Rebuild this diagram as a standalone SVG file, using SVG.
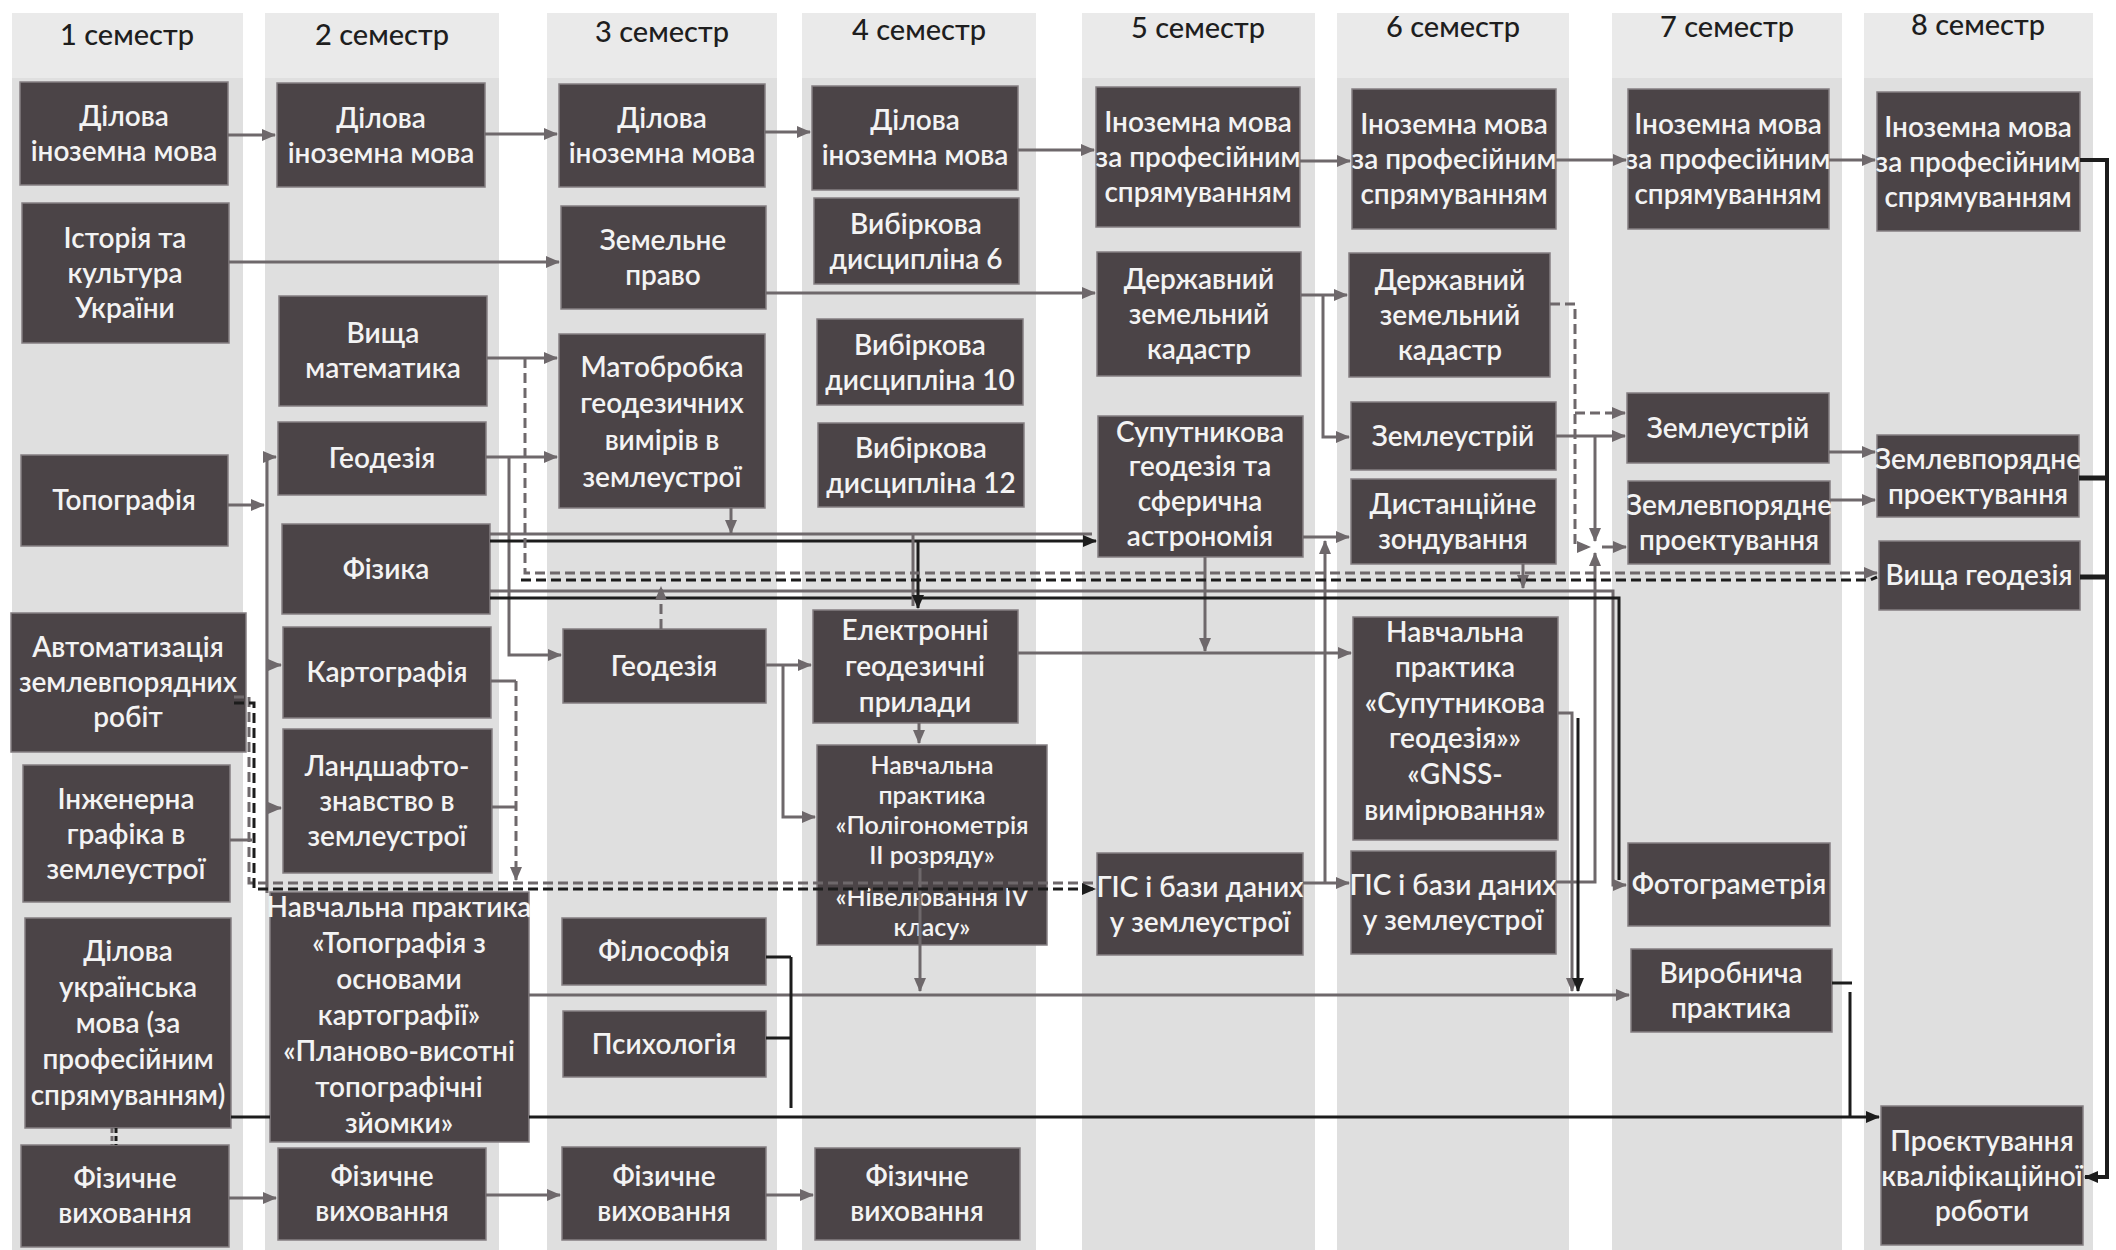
<svg xmlns="http://www.w3.org/2000/svg" width="2116" height="1250" viewBox="0 0 2116 1250">
<defs>
<style>
.col{fill:#dfdfdf}
.hdr{fill:#eaeaea}
.ht{font-family:Lato,'Open Sans','Noto Sans',sans-serif;font-size:29px;font-weight:500;fill:#1e1e1e;text-anchor:middle}
.box{fill:#4b4447;stroke:#857f82;stroke-width:1.5}
.t{font-family:Lato,'Open Sans','Noto Sans',sans-serif;font-size:28px;font-weight:600;fill:#f3f3f3;text-anchor:middle}
.ts{font-size:25px}
.g{fill:none;stroke:#6e686b;stroke-width:3}
.b{fill:none;stroke:#1c1c1c;stroke-width:3}
.gd{fill:none;stroke:#6e686b;stroke-width:3;stroke-dasharray:10 5}
.bd{fill:none;stroke:#1c1c1c;stroke-width:3;stroke-dasharray:10 5}
</style>
<marker id="ag" markerUnits="userSpaceOnUse" markerWidth="14" markerHeight="12" refX="13" refY="6" orient="auto"><path d="M0,0 L14,6 L0,12 z" fill="#6e686b"/></marker>
<marker id="ab" markerUnits="userSpaceOnUse" markerWidth="14" markerHeight="12" refX="13" refY="6" orient="auto"><path d="M0,0 L14,6 L0,12 z" fill="#1c1c1c"/></marker>
</defs>
<rect width="2116" height="1250" fill="#ffffff"/>
<g id="columns">
<rect class="col" x="12" y="13" width="231" height="1237"/><rect class="hdr" x="12" y="13" width="231" height="65"/>
<rect class="col" x="265" y="13" width="234" height="1237"/><rect class="hdr" x="265" y="13" width="234" height="65"/>
<rect class="col" x="547" y="13" width="230" height="1237"/><rect class="hdr" x="547" y="13" width="230" height="65"/>
<rect class="col" x="802" y="13" width="234" height="1237"/><rect class="hdr" x="802" y="13" width="234" height="65"/>
<rect class="col" x="1082" y="13" width="233" height="1237"/><rect class="hdr" x="1082" y="13" width="233" height="65"/>
<rect class="col" x="1337" y="13" width="232" height="1237"/><rect class="hdr" x="1337" y="13" width="232" height="65"/>
<rect class="col" x="1612" y="13" width="230" height="1237"/><rect class="hdr" x="1612" y="13" width="230" height="65"/>
<rect class="col" x="1864" y="13" width="229" height="1237"/><rect class="hdr" x="1864" y="13" width="229" height="65"/>
<text class="ht" x="127" y="45">1 семестр</text>
<text class="ht" x="382" y="45">2 семестр</text>
<text class="ht" x="662" y="42">3 семестр</text>
<text class="ht" x="919" y="40">4 семестр</text>
<text class="ht" x="1198" y="38">5 семестр</text>
<text class="ht" x="1453" y="37">6 семестр</text>
<text class="ht" x="1727" y="37">7 семестр</text>
<text class="ht" x="1978" y="35">8 семестр</text>
</g>
<g id="nodes">
<g id="n1a"><rect class="box" x="20" y="82" width="208" height="103"/><text class="t"><tspan x="124" y="126">Ділова</tspan><tspan x="124" y="161">іноземна мова</tspan></text></g>
<g id="n1b"><rect class="box" x="22" y="203" width="207" height="140"/><text class="t"><tspan x="125" y="248">Історія та</tspan><tspan x="125" y="283">культура</tspan><tspan x="125" y="318">України</tspan></text></g>
<g id="n1c"><rect class="box" x="21" y="455" width="207" height="91"/><text class="t"><tspan x="124" y="510">Топографія</tspan></text></g>
<g id="n1d"><rect class="box" x="11" y="613" width="235" height="139"/><text class="t"><tspan x="128" y="657">Автоматизація</tspan><tspan x="128" y="692">землевпорядних</tspan><tspan x="128" y="727">робіт</tspan></text></g>
<g id="n1e"><rect class="box" x="23" y="765" width="207" height="137"/><text class="t"><tspan x="126" y="809">Інженерна</tspan><tspan x="126" y="844">графіка в</tspan><tspan x="126" y="879">землеустрої</tspan></text></g>
<g id="n1f"><rect class="box" x="25" y="918" width="206" height="210"/><text class="t"><tspan x="128" y="961">Ділова</tspan><tspan x="128" y="997">українська</tspan><tspan x="128" y="1033">мова (за</tspan><tspan x="128" y="1069">професійним</tspan><tspan x="128" y="1105">спрямуванням)</tspan></text></g>
<g id="n1g"><rect class="box" x="21" y="1145" width="208" height="102"/><text class="t"><tspan x="125" y="1188">Фізичне</tspan><tspan x="125" y="1223">виховання</tspan></text></g>

<g id="n2a"><rect class="box" x="277" y="83" width="208" height="104"/><text class="t"><tspan x="381" y="128">Ділова</tspan><tspan x="381" y="163">іноземна мова</tspan></text></g>
<g id="n2b"><rect class="box" x="279" y="296" width="208" height="110"/><text class="t"><tspan x="383" y="343">Вища</tspan><tspan x="383" y="378">математика</tspan></text></g>
<g id="n2c"><rect class="box" x="278" y="422" width="208" height="73"/><text class="t"><tspan x="382" y="468">Геодезія</tspan></text></g>
<g id="n2d"><rect class="box" x="282" y="524" width="208" height="90"/><text class="t"><tspan x="386" y="579">Фізика</tspan></text></g>
<g id="n2e"><rect class="box" x="283" y="627" width="208" height="91"/><text class="t"><tspan x="387" y="682">Картографія</tspan></text></g>
<g id="n2f"><rect class="box" x="283" y="729" width="209" height="144"/><text class="t"><tspan x="387" y="776">Ландшафто-</tspan><tspan x="387" y="811">знавство в</tspan><tspan x="387" y="846">землеустрої</tspan></text></g>
<g id="n2g"><rect class="box" x="270" y="892" width="259" height="250"/><text class="t"><tspan x="399" y="917">Навчальна практика</tspan><tspan x="399" y="953">«Топографія з</tspan><tspan x="399" y="989">основами</tspan><tspan x="399" y="1025">картографії»</tspan><tspan x="399" y="1061">«Планово-висотні</tspan><tspan x="399" y="1097">топографічні</tspan><tspan x="399" y="1133">зйомки»</tspan></text></g>
<g id="n2h"><rect class="box" x="278" y="1148" width="208" height="92"/><text class="t"><tspan x="382" y="1186">Фізичне</tspan><tspan x="382" y="1221">виховання</tspan></text></g>

<g id="n3a"><rect class="box" x="559" y="84" width="206" height="103"/><text class="t"><tspan x="662" y="128">Ділова</tspan><tspan x="662" y="163">іноземна мова</tspan></text></g>
<g id="n3b"><rect class="box" x="561" y="206" width="205" height="103"/><text class="t"><tspan x="663" y="250">Земельне</tspan><tspan x="663" y="285">право</tspan></text></g>
<g id="n3c"><rect class="box" x="559" y="334" width="206" height="174"/><text class="t"><tspan x="662" y="377">Матобробка</tspan><tspan x="662" y="413">геодезичних</tspan><tspan x="662" y="450">вимірів в</tspan><tspan x="662" y="487">землеустрої</tspan></text></g>
<g id="n3d"><rect class="box" x="563" y="629" width="203" height="74"/><text class="t"><tspan x="664" y="676">Геодезія</tspan></text></g>
<g id="n3e"><rect class="box" x="562" y="918" width="204" height="67"/><text class="t"><tspan x="664" y="961">Філософія</tspan></text></g>
<g id="n3f"><rect class="box" x="563" y="1011" width="203" height="66"/><text class="t"><tspan x="664" y="1054">Психологія</tspan></text></g>
<g id="n3g"><rect class="box" x="562" y="1147" width="204" height="93"/><text class="t"><tspan x="664" y="1186">Фізичне</tspan><tspan x="664" y="1221">виховання</tspan></text></g>

<g id="n4a"><rect class="box" x="812" y="86" width="206" height="104"/><text class="t"><tspan x="915" y="130">Ділова</tspan><tspan x="915" y="165">іноземна мова</tspan></text></g>
<g id="n4b"><rect class="box" x="814" y="198" width="205" height="86"/><text class="t"><tspan x="916" y="234">Вибіркова</tspan><tspan x="916" y="269">дисципліна 6</tspan></text></g>
<g id="n4c"><rect class="box" x="817" y="319" width="206" height="86"/><text class="t"><tspan x="920" y="355">Вибіркова</tspan><tspan x="920" y="390">дисципліна 10</tspan></text></g>
<g id="n4d"><rect class="box" x="818" y="423" width="206" height="84"/><text class="t"><tspan x="921" y="458">Вибіркова</tspan><tspan x="921" y="493">дисципліна 12</tspan></text></g>
<g id="n4e"><rect class="box" x="813" y="610" width="205" height="113"/><text class="t"><tspan x="915" y="640">Електронні</tspan><tspan x="915" y="676">геодезичні</tspan><tspan x="915" y="712">прилади</tspan></text></g>
<g id="n4f"><rect class="box" x="817" y="745" width="230" height="200"/><text class="t ts"><tspan x="932" y="774">Навчальна</tspan><tspan x="932" y="804">практика</tspan><tspan x="932" y="834">«Полігонометрія</tspan><tspan x="932" y="864">II розряду»</tspan><tspan x="932" y="906">«Нівелювання IV</tspan><tspan x="932" y="936">класу»</tspan></text></g>
<g id="n4g"><rect class="box" x="815" y="1148" width="205" height="92"/><text class="t"><tspan x="917" y="1186">Фізичне</tspan><tspan x="917" y="1221">виховання</tspan></text></g>

<g id="n5a"><rect class="box" x="1096" y="87" width="204" height="140"/><text class="t"><tspan x="1198" y="132">Іноземна мова</tspan><tspan x="1198" y="167">за професійним</tspan><tspan x="1198" y="202">спрямуванням</tspan></text></g>
<g id="n5b"><rect class="box" x="1097" y="252" width="204" height="124"/><text class="t"><tspan x="1199" y="289">Державний</tspan><tspan x="1199" y="324">земельний</tspan><tspan x="1199" y="359">кадастр</tspan></text></g>
<g id="n5c"><rect class="box" x="1098" y="416" width="205" height="141"/><text class="t"><tspan x="1200" y="442">Супутникова</tspan><tspan x="1200" y="476">геодезія та</tspan><tspan x="1200" y="511">сферична</tspan><tspan x="1200" y="546">астрономія</tspan></text></g>
<g id="n5d"><rect class="box" x="1097" y="853" width="206" height="102"/><text class="t"><tspan x="1200" y="897">ГІС і бази даних</tspan><tspan x="1200" y="932">у землеустрої</tspan></text></g>

<g id="n6a"><rect class="box" x="1352" y="89" width="204" height="140"/><text class="t"><tspan x="1454" y="134">Іноземна мова</tspan><tspan x="1454" y="169">за професійним</tspan><tspan x="1454" y="204">спрямуванням</tspan></text></g>
<g id="n6b"><rect class="box" x="1349" y="253" width="201" height="124"/><text class="t"><tspan x="1450" y="290">Державний</tspan><tspan x="1450" y="325">земельний</tspan><tspan x="1450" y="360">кадастр</tspan></text></g>
<g id="n6c"><rect class="box" x="1351" y="402" width="205" height="68"/><text class="t"><tspan x="1453" y="446">Землеустрій</tspan></text></g>
<g id="n6d"><rect class="box" x="1351" y="479" width="205" height="85"/><text class="t"><tspan x="1453" y="514">Дистанційне</tspan><tspan x="1453" y="549">зондування</tspan></text></g>
<g id="n6e"><rect class="box" x="1353" y="617" width="205" height="223"/><text class="t"><tspan x="1455" y="642">Навчальна</tspan><tspan x="1455" y="677">практика</tspan><tspan x="1455" y="713">«Супутникова</tspan><tspan x="1455" y="748">геодезія»»</tspan><tspan x="1455" y="784">«GNSS-</tspan><tspan x="1455" y="820">вимірювання»</tspan></text></g>
<g id="n6f"><rect class="box" x="1351" y="851" width="205" height="103"/><text class="t"><tspan x="1453" y="895">ГІС і бази даних</tspan><tspan x="1453" y="930">у землеустрої</tspan></text></g>

<g id="n7a"><rect class="box" x="1628" y="89" width="201" height="140"/><text class="t"><tspan x="1728" y="134">Іноземна мова</tspan><tspan x="1728" y="169">за професійним</tspan><tspan x="1728" y="204">спрямуванням</tspan></text></g>
<g id="n7b"><rect class="box" x="1627" y="393" width="202" height="70"/><text class="t"><tspan x="1728" y="438">Землеустрій</tspan></text></g>
<g id="n7c"><rect class="box" x="1628" y="481" width="202" height="83"/><text class="t"><tspan x="1729" y="515">Землевпорядне</tspan><tspan x="1729" y="550">проектування</tspan></text></g>
<g id="n7d"><rect class="box" x="1628" y="843" width="202" height="83"/><text class="t"><tspan x="1729" y="894">Фотограметрія</tspan></text></g>
<g id="n7e"><rect class="box" x="1631" y="949" width="201" height="83"/><text class="t"><tspan x="1731" y="983">Виробнича</tspan><tspan x="1731" y="1018">практика</tspan></text></g>

<g id="n8a"><rect class="box" x="1877" y="92" width="203" height="139"/><text class="t"><tspan x="1978" y="137">Іноземна мова</tspan><tspan x="1978" y="172">за професійним</tspan><tspan x="1978" y="207">спрямуванням</tspan></text></g>
<g id="n8b"><rect class="box" x="1877" y="435" width="202" height="82"/><text class="t"><tspan x="1978" y="469">Землевпорядне</tspan><tspan x="1978" y="504">проектування</tspan></text></g>
<g id="n8c"><rect class="box" x="1879" y="541" width="201" height="69"/><text class="t"><tspan x="1979" y="585">Вища геодезія</tspan></text></g>
<g id="n8d"><rect class="box" x="1881" y="1106" width="202" height="139"/><text class="t"><tspan x="1982" y="1151">Проєктування</tspan><tspan x="1982" y="1186">кваліфікаційної</tspan><tspan x="1982" y="1221">роботи</tspan></text></g>
</g>
<g id="connectors">
<path class="g" d="M228,135 H275" marker-end="url(#ag)"/>
<path class="g" d="M485,134 H557" marker-end="url(#ag)"/>
<path class="g" d="M765,132 H810" marker-end="url(#ag)"/>
<path class="g" d="M1018,150 H1094" marker-end="url(#ag)"/>
<path class="g" d="M1300,161 H1350" marker-end="url(#ag)"/>
<path class="g" d="M1556,160 H1626" marker-end="url(#ag)"/>
<path class="g" d="M1829,160 H1875" marker-end="url(#ag)"/>
<path class="g" d="M229,262 H559" marker-end="url(#ag)"/>
<path class="g" d="M766,293 H1095" marker-end="url(#ag)"/>
<path class="g" d="M1301,295 H1347" marker-end="url(#ag)"/>
<path class="g" d="M1323,295 V437 H1349" marker-end="url(#ag)"/>
<path class="g" d="M1556,436 H1625" marker-end="url(#ag)"/>
<path class="g" d="M1595,436 V541" marker-end="url(#ag)"/>
<path class="g" d="M1602,547 H1626" marker-end="url(#ag)"/>
<path class="g" d="M1829,452 H1875" marker-end="url(#ag)"/>
<path class="g" d="M1830,500 H1875" marker-end="url(#ag)"/>
<path class="g" d="M487,358 H557" marker-end="url(#ag)"/>
<path class="g" d="M228,505 H264" marker-end="url(#ag)"/>
<path class="g" d="M267,457 V893"/>
<path class="g" d="M267,457 H276" marker-end="url(#ag)"/>
<path class="g" d="M267,665 H281" marker-end="url(#ag)"/>
<path class="g" d="M267,808 H281" marker-end="url(#ag)"/>
<path class="g" d="M486,457 H557" marker-end="url(#ag)"/>
<path class="g" d="M509,457 V655 H561" marker-end="url(#ag)"/>
<path class="g" d="M731,508 V533" marker-end="url(#ag)"/>
<path class="g" d="M766,665 H811" marker-end="url(#ag)"/>
<path class="g" d="M783,665 V817 H815" marker-end="url(#ag)"/>
<path class="g" d="M919,723 V743" marker-end="url(#ag)"/>
<path class="g" d="M920,868 V991" marker-end="url(#ag)"/>
<path class="g" d="M529,995 H1629" marker-end="url(#ag)"/>
<path class="g" d="M1018,653 H1351" marker-end="url(#ag)"/>
<path class="g" d="M1205,557 V651" marker-end="url(#ag)"/>
<path class="g" d="M1303,537 H1349" marker-end="url(#ag)"/>
<path class="g" d="M1303,883 H1349" marker-end="url(#ag)"/>
<path class="g" d="M1325,883 V541" marker-end="url(#ag)"/>
<path class="g" d="M1556,882 H1595 V553" marker-end="url(#ag)"/>
<path class="g" d="M1523,564 V588" marker-end="url(#ag)"/>
<path class="g" d="M490,591 H1613 V885 H1626" marker-end="url(#ag)"/>
<path class="b" d="M490,598 H1619 V880"/>
<path class="g" d="M490,534 H1092"/>
<path class="b" d="M490,541 H1096" marker-end="url(#ab)"/>
<path class="g" d="M913,534 V606"/>
<path class="b" d="M918,541 V608" marker-end="url(#ab)"/>
<path class="g" d="M1558,713 H1572 V991" marker-end="url(#ag)"/>
<path class="b" d="M1578,718 V991" marker-end="url(#ab)"/>
<path class="gd" d="M525,358 V573 H1877" marker-end="url(#ag)"/>
<path class="bd" d="M521,580 H1870 L1877,577"/>
<path class="gd" d="M661,629 V587" marker-end="url(#ag)"/>
<path class="gd" d="M1550,304 H1575 V547 H1590" marker-end="url(#ag)"/>
<path class="gd" d="M1575,413 H1625" marker-end="url(#ag)"/>
<path class="g" d="M491,681 H516"/>
<path class="gd" d="M516,681 V880" marker-end="url(#ag)"/>
<path class="g" d="M492,807 H516"/>
<path class="gd" d="M234,697 H249 V883 H1093"/>
<path class="bd" d="M234,703 H254 V889 H1095" marker-end="url(#ab)"/>
<path class="g" d="M230,840 H252"/>
<path class="b" d="M231,1117 H270"/>
<path class="b" d="M529,1117 H1879" marker-end="url(#ab)"/>
<path class="b" d="M766,957 H791 M766,1038 H791 M791,957 V1108"/>
<path class="b" d="M1832,983 H1852 M1850,992 V1117"/>
<path class="b" d="M2080,160 H2107 V1177 H2085" marker-end="url(#ab)" style="stroke-width:4"/>
<path class="b" d="M2079,478 H2107 M2080,577 H2107" style="stroke-width:5"/>
<path class="g" d="M229,1198 H276" marker-end="url(#ag)"/>
<path class="g" d="M486,1195 H560" marker-end="url(#ag)"/>
<path class="g" d="M766,1195 H813" marker-end="url(#ag)"/>
<path class="gd" d="M112,1128 V1145" style="stroke-dasharray:5 3"/>
<path class="bd" d="M116,1128 V1145" style="stroke-dasharray:5 3"/>
</g>
</svg>
